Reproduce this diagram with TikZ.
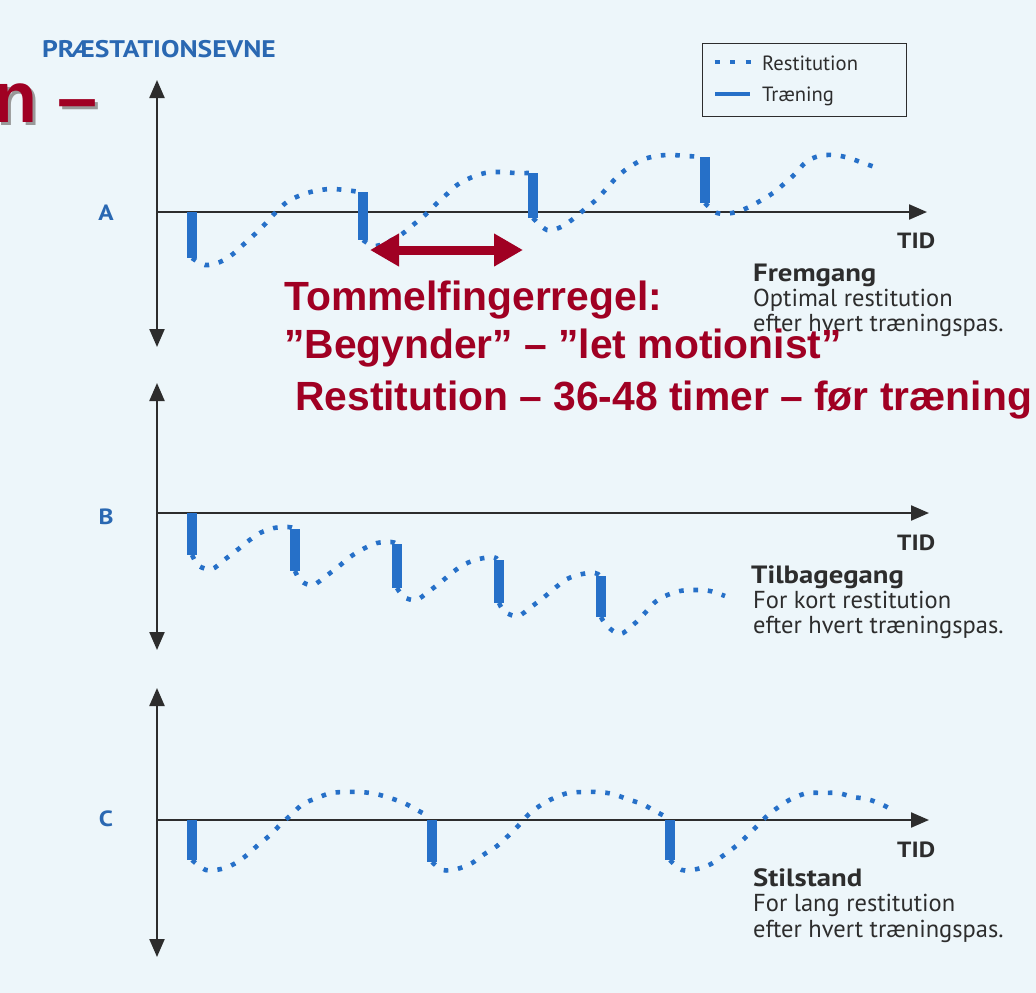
\documentclass[tikz,border=0pt]{standalone}
\usepackage{fontspec}
\setmainfont{PT Sans}
\newfontfamily\widef[FakeStretch=1.15]{PT Sans}
\newfontfamily\arialf{Liberation Sans}
\usetikzlibrary{arrows.meta}
\definecolor{bg}{RGB}{237,246,250}
\definecolor{cblue}{RGB}{38,112,200}
\definecolor{lblue}{RGB}{42,104,178}
\definecolor{dred}{RGB}{160,0,35}
\definecolor{axisc}{RGB}{45,45,45}
\definecolor{txt}{RGB}{45,45,45}
\begin{document}
\begin{tikzpicture}[x=1pt,y=-1pt,
  vaxis/.style={draw=axisc, line width=2.2pt, {Triangle[length=18pt,width=15pt]}-{Triangle[length=18pt,width=15pt]}},
  haxis/.style={draw=axisc, line width=2.2pt, -{Triangle[length=18pt,width=15pt]}},
  bar/.style={draw=cblue, line width=10pt},
  rest/.style={draw=cblue, line width=4.6pt, dash pattern=on 4.6pt off 9.8pt},
  panlab/.style={text=lblue, font=\widef\bfseries\fontsize{22}{26}\selectfont, anchor=center, inner sep=0pt},
  tid/.style={text=txt, font=\widef\bfseries\fontsize{22}{26}\selectfont, anchor=base west, inner sep=0pt},
  ttl/.style={text=txt, font=\widef\bfseries\fontsize{25}{28}\selectfont, anchor=base west, inner sep=0pt},
  body/.style={text=txt, font=\fontsize{24.5}{28}\selectfont, anchor=base west, inner sep=0pt},
  redtxt/.style={text=dred, font=\arialf\bfseries\fontsize{40.8}{46}\selectfont, anchor=base west, inner sep=0pt},
  legtxt/.style={text=txt, font=\fontsize{20.6}{24}\selectfont, anchor=base west, inner sep=0pt},
  bignfont/.style={font=\arialf\bfseries\fontsize{72}{80}\selectfont, anchor=base west, inner sep=0pt}
]
\useasboundingbox (0,0) rectangle (1036,993);
\fill[bg] (0,0) rectangle (1036,993);

% title
\node[text=lblue, font=\widef\bfseries\fontsize{24}{28}\selectfont, anchor=base west, inner sep=0pt] (title) at (42,57) {PRÆSTATIONSEVNE};

% red fragment with shadow
\node[bignfont, text=black!40] (nshadow) at (-4,125) {n –};
\node[bignfont, text=dred] (nfrag) at (-7,122) {n –};

% legend
\node[draw=axisc, line width=0.8pt, minimum width=204pt, minimum height=73pt, anchor=north west, inner sep=0pt] (legend) at (702,43) {};
\coordinate (ld1) at (714.5,62);
\coordinate (ld2) at (751,62);
\draw[draw=cblue, line width=4.6pt, dash pattern=on 5pt off 10.5pt] (ld1) -- (ld2);
\coordinate (ls1) at (715,94);
\coordinate (ls2) at (750,94);
\draw[draw=cblue, line width=4pt] (ls1) -- (ls2);
\node[legtxt] (legR) at (762,70) {Restitution};
\node[legtxt] (legT) at (762,101) {Træning};

% ===== Panel A =====
\coordinate (Atop) at (157,80);
\coordinate (Abot) at (157,347);
\coordinate (Aorig) at (157,212);
\coordinate (Aend) at (927,212);
\draw[vaxis] (Abot) -- (Atop);
\draw[haxis] (Aorig) -- (Aend);
\node[panlab] (labA) at (106,213) {A};

\draw[rest] plot[smooth, tension=0.55] coordinates {(192,258) (205,265) (220,262) (233,254) (244,244) (255,234) (266,223) (276,212) (287,202) (301,195) (315,191) (330,189) (345,190) (360,192)};
\draw[rest] plot[smooth, tension=0.55] coordinates {(363,240) (374,246) (388,242) (402,234) (413,225) (425,215) (435,205) (447,194) (457,185) (470,178) (485,173) (500,172) (515,173) (531,173)};
\draw[rest] plot[smooth, tension=0.55] coordinates {(533,218) (547,230) (561,227) (573,219) (585,209) (597,199) (607,188) (617,177) (628,168) (642,160) (656,156) (671,155) (687,156) (703,157)};
\draw[rest] plot[smooth, tension=0.55] coordinates {(705,203) (717,213) (732,213) (747,208) (760,201) (773,193) (785,183) (796,173) (806,162) (819,156) (834,155) (849,158) (863,163) (878,168)};
\draw[bar] (192,212) -- (192,258);
\draw[bar] (363,192) -- (363,240);
\draw[bar] (533,173) -- (533,218);
\draw[bar] (705,157) -- (705,203);

\node[tid] (tidA) at (897,248) {TID};
\node[ttl] (tA) at (753,281) {Fremgang};
\node[body] (bA1) at (753,306) {Optimal restitution};
\node[body] (bA2) at (753,331) {efter hvert træningspas.};

% red double arrow
\coordinate (arrL) at (370,250);
\coordinate (arrR) at (523,250);
\draw[draw=dred, line width=9pt, {Triangle[length=29pt,width=31pt]}-{Triangle[length=29pt,width=31pt]}] (arrL) -- (arrR);

% red text
\node[redtxt] (r1) at (284,310) {Tommelfingerregel:};
\node[redtxt] (r2) at (284,358) {”Begynder” – ”let motionist”};
\node[redtxt] (r3) at (295,410) {Restitution – 36-48 timer – før træning};

% ===== Panel B =====
\coordinate (Btop) at (157,383);
\coordinate (Bbot) at (157,650);
\coordinate (Borig) at (157,513);
\coordinate (Bend) at (929,513);
\draw[vaxis] (Bbot) -- (Btop);
\draw[haxis] (Borig) -- (Bend);
\node[panlab] (labB) at (106,517) {B};

\draw[rest] plot[smooth, tension=0.55] coordinates {(192,555) (199,566) (212,569) (224,560) (236,551) (247,542) (260,533) (274,528) (288,527) (293,528)};
\draw[rest] plot[smooth, tension=0.55] coordinates {(295,571) (301,581) (313,585) (326,576) (338,567) (350,557) (363,549) (377,543) (391,542) (395,543)};
\draw[rest] plot[smooth, tension=0.55] coordinates {(397,588) (404,597) (416,600) (428,592) (441,582) (453,572) (465,564) (479,559) (493,557) (497,559)};
\draw[rest] plot[smooth, tension=0.55] coordinates {(499,603) (505,612) (518,616) (531,607) (543,598) (555,588) (567,579) (582,574) (595,573) (599,575)};
\draw[rest] plot[smooth, tension=0.55] coordinates {(601,617) (607,626) (620,634) (633,625) (644,614) (654,603) (665,596) (680,591) (695,590) (710,591) (725,596)};
\draw[bar] (192,513) -- (192,555);
\draw[bar] (295,529) -- (295,571);
\draw[bar] (397,544) -- (397,588);
\draw[bar] (499,560) -- (499,603);
\draw[bar] (601,576) -- (601,617);

\node[tid] (tidB) at (897,550) {TID};
\node[ttl] (tB) at (751,583) {Tilbagegang};
\node[body] (bB1) at (753,608) {For kort restitution};
\node[body] (bB2) at (753,633) {efter hvert træningspas.};

% ===== Panel C =====
\coordinate (Ctop) at (157,688);
\coordinate (Cbot) at (157,957);
\coordinate (Corig) at (157,820);
\coordinate (Cend) at (929,820);
\draw[vaxis] (Cbot) -- (Ctop);
\draw[haxis] (Corig) -- (Cend);
\node[panlab] (labC) at (106,819) {C};

\draw[rest] plot[smooth, tension=0.55] coordinates {(192,860) (206,870) (221,869) (234,864) (247,855) (258,845) (269,836) (281,824) (292,814) (303,804) (317,798) (331,793) (346,792) (361,792) (376,794) (390,798) (404,803) (417,810) (430,817)};
\draw[rest] plot[smooth, tension=0.55] coordinates {(432,862) (443,870) (457,869) (472,863) (483,855) (497,846) (508,836) (519,825) (529,814) (541,805) (554,798) (568,793) (583,792) (598,792) (613,794) (627,799) (642,804) (655,811) (668,818)};
\draw[rest] plot[smooth, tension=0.55] coordinates {(670,860) (682,870) (697,869) (711,864) (724,855) (736,846) (747,836) (757,826) (768,815) (780,806) (793,798) (808,793) (823,793) (838,793) (853,797) (867,799) (881,804) (894,811)};
\draw[bar] (192,820) -- (192,860);
\draw[bar] (432,820) -- (432,862);
\draw[bar] (670,820) -- (670,860);

\node[tid] (tidC) at (897,857) {TID};
\node[ttl] (tC) at (753,886) {Stilstand};
\node[body] (bC1) at (753,911) {For lang restitution};
\node[body] (bC2) at (753,937) {efter hvert træningspas.};
\end{tikzpicture}
\end{document}
